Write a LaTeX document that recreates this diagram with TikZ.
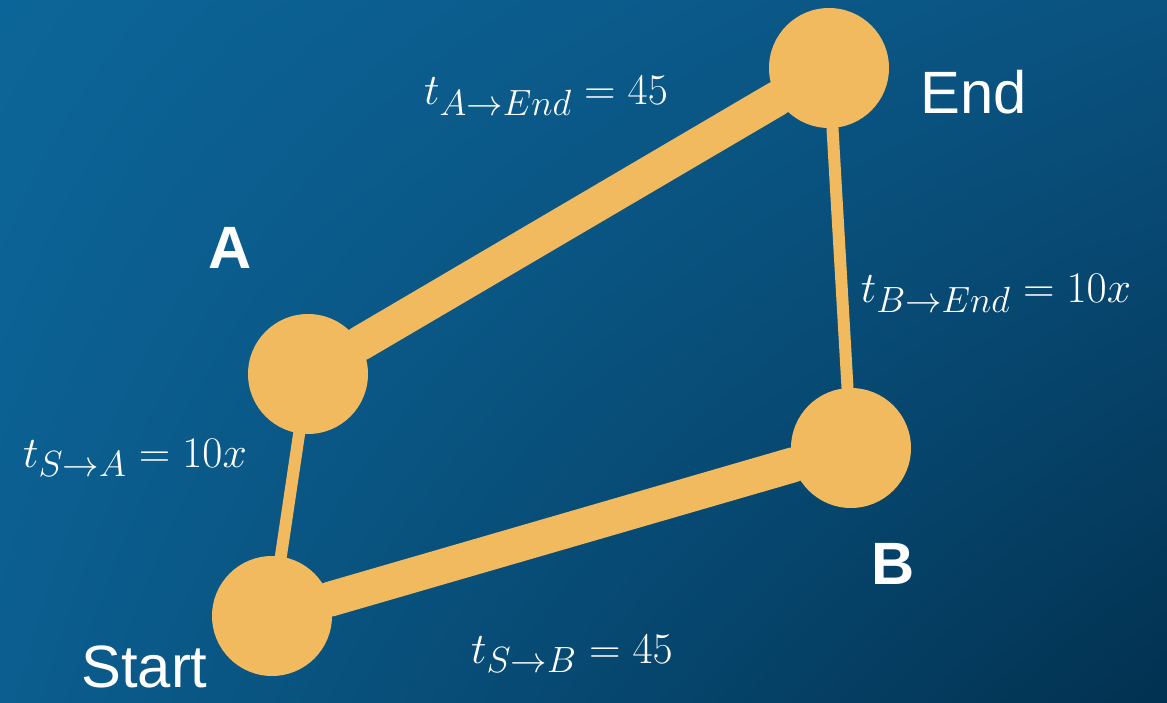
\documentclass[tikz,border=0pt]{standalone}
\usepackage[no-math]{fontspec}
\newfontfamily\labelfont{Liberation Sans}
\usepackage{tikz}
\usetikzlibrary{shadings}
\usepackage{xcolor}
\definecolor{skytl}{HTML}{0C6598}
\definecolor{skytr}{HTML}{0A5280}
\definecolor{skybl}{HTML}{0B5E8F}
\definecolor{skybr}{HTML}{023150}
\definecolor{road}{HTML}{F2BA5E}
\tikzset{
  stop/.style={circle,fill=road,minimum size=24mm,inner sep=0pt},
  mainroad/.style={draw=road,line width=7mm,line cap=round},
  sideroad/.style={draw=road,line width=2.4mm,line cap=round},
  town/.style={text=white,anchor=base,inner sep=0pt,
               font=\labelfont\fontsize{34}{40}\selectfont},
  towncap/.style={town,font=\labelfont\bfseries\fontsize{34}{40}\selectfont},
  cost/.style={text=white,anchor=base,inner sep=0pt,
               font=\fontsize{24.88}{30}\selectfont}
}

\begin{document}
\begin{tikzpicture}[line join=round]
  \useasboundingbox (0,0) rectangle (23.34,-14.06);
  % Background
  \shade[upper left=skytl,upper right=skytr,lower left=skybl,
         lower right=skybr] (0,0) rectangle (23.34,-14.06);

  % Stops
  \node[stop] (start) at (5.44,-12.32) {};
  \node[stop] (a) at (6.16,-7.48) {};
  \node[stop] (b) at (17.02,-8.96) {};
  \node[stop] (end) at (16.58,-1.36) {};

  % Roads
  \draw[mainroad] (a) -- (end);
  \draw[mainroad] (start) -- (b);
  \draw[sideroad] (start) -- (a);
  \draw[sideroad] (b) -- (end);

  % Names
  \node[town] (startname) at (2.89,-13.74) {Start};
  \node[town] (endname) at (19.48,-2.28) {End};
  \node[towncap] (aname) at (4.6,-5.36) {A};
  \node[towncap] (bname) at (17.86,-11.68) {B};

  % Travel times
  \node[cost] (tae) at (10.92,-2.1) {$t_{A\to End}=45$};
  \node[cost] (tbe) at (19.92,-6.04) {$t_{B\to End}=10x$};
  \node[cost] (tsa) at (2.7,-9.34) {$t_{S\to A}=10x$};
  \node[cost] (tsb) at (11.44,-13.26) {$t_{S\to B}=45$};
\end{tikzpicture}
\end{document}
